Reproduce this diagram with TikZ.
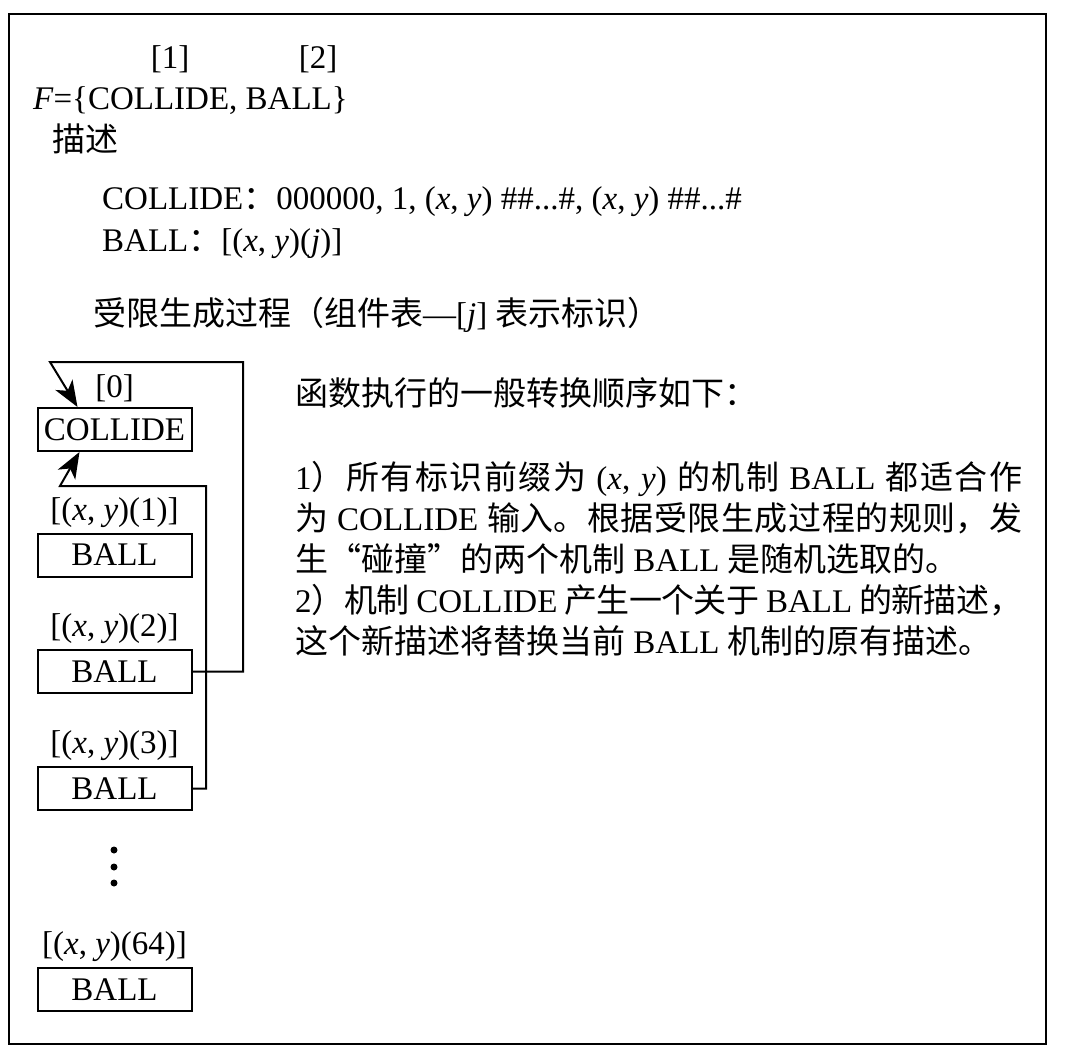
\documentclass[tikz,border=0pt]{standalone}
\usepackage{fontspec}
\setmainfont{Liberation Serif}
\newfontfamily\cjk{Noto Sans CJK SC}
\usetikzlibrary{arrows.meta,positioning}
\XeTeXlinebreaklocale "zh"
\XeTeXlinebreakskip=0pt plus 3pt minus 1.5pt
\newcommand\zh[1]{{\cjk #1}}
\newcommand\xy{(\textit{x}, \textit{y})}
\newcommand\txtsize{\fontsize{33pt}{41pt}\selectfont}
\tikzset{
  textnode/.style = {inner sep=0pt, font=\txtsize},
  % box_M: one mechanism, framed
  box_M/.style = {textnode, draw=black, line width=2pt, minimum width=154pt, minimum height=43pt},
  label_J/.style = {textnode, node distance=5pt},
  dot_V/.style = {circle, fill=black, inner sep=0pt, minimum size=7pt},
  wire_W/.style = {draw=black, line width=2pt, -{Stealth[length=26pt,width=20pt,inset=7pt,fill=black]}}
}

\begin{document}
\begin{tikzpicture}[x=1pt, y=-1pt]
    \useasboundingbox (0,0) rectangle (1073,1056);
    % Frame:
    \draw[line width=2pt] (9,14) rectangle (1046,1044);
    % Header - set F:
    \node[textnode, anchor=base] (tag1) at (170,69) {[1]};
    \node[textnode, anchor=base] (tag2) at (318,69) {[2]};
    \node[textnode, anchor=base west] (setF) at (33,110) {\textit{F}=\{COLLIDE, BALL\}};
    % Header - descriptions:
    \node[textnode, anchor=base west] (desc) at (52,152) {\zh{描述}};
    \node[textnode, anchor=base west] (descC) at (102,210)
        {COLLIDE\zh{：}000000, 1, \xy{} \#\#...\#, \xy{} \#\#...\#};
    \node[textnode, anchor=base west] (descB) at (102,252) {BALL\zh{：}[\xy(\textit{j})]};
    \node[textnode, anchor=base west] (rule) at (93,326)
        {\zh{受限生成过程（组件表}—[\textit{j}] \zh{表示标识）}};
    % Box 0 - COLLIDE:
    \node[box_M] (collide) at (114.5,429.5) {COLLIDE};
    \node[label_J, above=of collide] (tag0) {[0]};
    % Boxes - BALL(j):
    \foreach \j/\ypos in {1/555, 2/671.5, 3/788.5, 64/989.5} {
        \node[box_M] (ball\j) at (114.5,\ypos) {BALL};
        \node[label_J, above=of ball\j] (tagB\j) {[\xy(\j)]};
    }
    % Dots between BALL(3) and BALL(64):
    \foreach \ypos in {850,867,883}
        \node[dot_V] (dot\ypos) at (114,\ypos) {};
    % Wire - BALL(2) back into COLLIDE top:
    \coordinate (loopR) at (243,362);
    \coordinate (loopL) at (50,362);
    \draw[wire_W] (ball2.east) -| (loopR) -- (loopL) -- ([xshift=41pt]collide.north west);
    % Wire - BALL(3) into COLLIDE bottom:
    \coordinate (feedR) at (206,486);
    \coordinate (feedL) at (60,486);
    \draw[wire_W] (ball3.east) -| (feedR) -- (feedL) -- ([xshift=43pt]collide.south west);
    % Right - transition order:
    \node[textnode, anchor=base west] (order) at (295,405) {\zh{函数执行的一般转换顺序如下：}};
    \node[textnode, anchor=base west, text width=727pt, align=justify] (steps) at (295,489) {
        1\zh{）所有标识前缀为} \xy{} \zh{的机制} BALL \zh{都适合作}\linebreak
        \zh{为} COLLIDE \zh{输入。根据受限生成过程的规则，发}\linebreak
        \zh{生“碰撞”的两个机制} BALL \zh{是随机选取的。}\\
        2\zh{）机制} COLLIDE \zh{产生一个关于} BALL \zh{的新描述，}\linebreak
        \zh{这个新描述将替换当前} BALL \zh{机制的原有描述。}};
\end{tikzpicture}
\end{document}
